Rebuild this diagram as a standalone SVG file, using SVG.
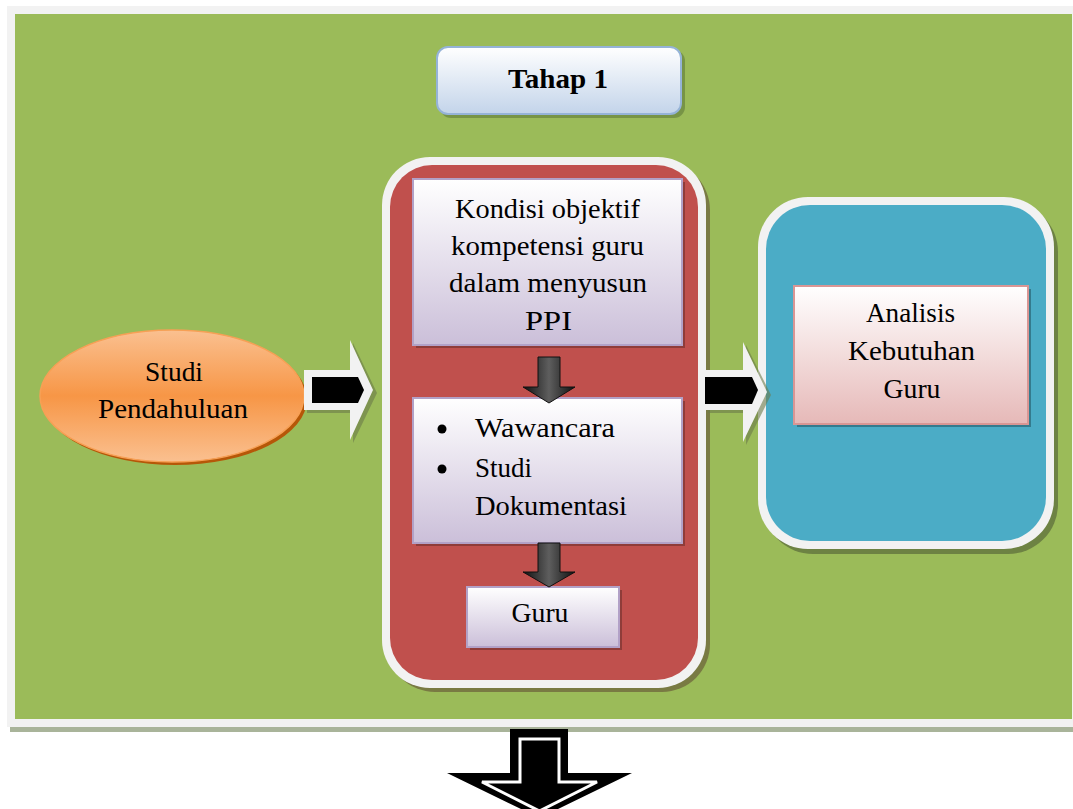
<svg xmlns="http://www.w3.org/2000/svg" width="1073" height="809" viewBox="0 0 1073 809">
<defs>
<linearGradient id="gTahap" x1="0" y1="0" x2="0" y2="1"><stop offset="0" stop-color="#ffffff"/><stop offset="1" stop-color="#c3d4ea"/></linearGradient>
<linearGradient id="gPurple" x1="0" y1="0" x2="0" y2="1"><stop offset="0" stop-color="#ffffff"/><stop offset="1" stop-color="#cbbfd9"/></linearGradient>
<linearGradient id="gPink" x1="0" y1="0" x2="0" y2="1"><stop offset="0" stop-color="#ffffff"/><stop offset="1" stop-color="#e6b9b8"/></linearGradient>
<linearGradient id="gOrange" x1="0" y1="0" x2="0" y2="1"><stop offset="0" stop-color="#fac090"/><stop offset="0.5" stop-color="#f79646"/><stop offset="1" stop-color="#fac090"/></linearGradient>
<linearGradient id="gDark" x1="0" y1="0" x2="1" y2="0"><stop offset="0" stop-color="#111"/><stop offset="0.5" stop-color="#5e5e5e"/><stop offset="1" stop-color="#111"/></linearGradient>
<style>
text{font-family:'Liberation Serif','Times New Roman',serif;font-size:27px;font-weight:400;fill:#000}
.c{text-anchor:middle}
.sh{fill:#7a3330;opacity:.7}
</style>
</defs>
<rect width="1073" height="809" fill="#ffffff"/>
<g id="frame">
<rect x="10" y="726" width="1063" height="6" fill="#a9b49a"/>
<rect x="7" y="6" width="1066" height="721" fill="#f2f2f2"/>
<rect x="15" y="14" width="1057" height="705" fill="#9bbb59"/>
</g>
<g id="tahap1">
<rect x="440" y="50" width="245" height="68" rx="11" fill="#5f7a3a" opacity="0.6"/>
<rect x="437" y="47" width="244" height="67" rx="11" fill="url(#gTahap)" stroke="#95b3d7" stroke-width="2"/>
<text class="c" x="558" y="88" style="font-weight:700;font-size:27px" textLength="100" lengthAdjust="spacingAndGlyphs">Tahap 1</text>
</g>
<g id="studi">
<ellipse cx="175" cy="399" rx="132" ry="66" fill="#b65708"/>
<ellipse cx="172" cy="396" rx="132" ry="66" fill="url(#gOrange)" stroke="#f7a055" stroke-width="1.5"/>
<text class="c" x="174" y="381" textLength="58" lengthAdjust="spacingAndGlyphs">Studi</text>
<text class="c" x="173" y="418" textLength="150" lengthAdjust="spacingAndGlyphs">Pendahuluan</text>
</g>
<g id="proses">
<rect x="387" y="162" width="323" height="530" rx="48" fill="#6b5e3a" opacity="0.7"/>
<rect x="382" y="157" width="324" height="531" rx="48" fill="#f2f2f2"/>
<rect x="390" y="165" width="308" height="515" rx="42" fill="#c0504d"/>
</g>
<g id="kondisi">
<rect x="416" y="182" width="269" height="166" class="sh"/>
<rect x="413" y="179" width="269" height="166" fill="url(#gPurple)" stroke="#b2a1c7" stroke-width="2"/>
<text class="c" x="547.5" y="218" textLength="185" lengthAdjust="spacingAndGlyphs">Kondisi objektif</text>
<text class="c" x="547.5" y="255" textLength="193" lengthAdjust="spacingAndGlyphs">kompetensi guru</text>
<text class="c" x="548" y="292" textLength="198" lengthAdjust="spacingAndGlyphs">dalam menyusun</text>
<text class="c" x="548.5" y="330" textLength="47" lengthAdjust="spacingAndGlyphs">PPI</text>
</g>
<g id="metode">
<rect x="416" y="401" width="269" height="145" class="sh"/>
<rect x="413" y="398" width="269" height="145" fill="url(#gPurple)" stroke="#b2a1c7" stroke-width="2"/>
<circle cx="442" cy="429" r="4.5" fill="#000"/>
<circle cx="442" cy="469" r="4.5" fill="#000"/>
<text x="475" y="437" textLength="140" lengthAdjust="spacingAndGlyphs">Wawancara</text>
<text x="475" y="477" textLength="57" lengthAdjust="spacingAndGlyphs">Studi</text>
<text x="475" y="515" textLength="152" lengthAdjust="spacingAndGlyphs">Dokumentasi</text>
</g>
<g id="guru">
<rect x="470" y="590" width="152" height="60" class="sh"/>
<rect x="467" y="587" width="152" height="60" fill="url(#gPurple)" stroke="#b2a1c7" stroke-width="2"/>
<text class="c" x="540" y="622" textLength="57" lengthAdjust="spacingAndGlyphs">Guru</text>
</g>
<g id="analisis-wrap">
<rect x="763" y="202" width="295" height="352" rx="50" fill="#5a6a3a" opacity="0.7"/>
<rect x="758" y="197" width="296" height="352" rx="50" fill="#f2f2f2"/>
<rect x="766" y="205" width="280" height="336" rx="44" fill="#4bacc6"/>
</g>
<g id="analisis">
<rect x="797" y="289" width="234" height="138" fill="#2e6f80" opacity="0.8"/>
<rect x="794" y="286" width="234" height="138" fill="url(#gPink)" stroke="#d99694" stroke-width="2"/>
<text class="c" x="910.5" y="322" textLength="89" lengthAdjust="spacingAndGlyphs">Analisis</text>
<text class="c" x="911.5" y="360" textLength="127" lengthAdjust="spacingAndGlyphs">Kebutuhan</text>
<text class="c" x="912" y="398" textLength="57" lengthAdjust="spacingAndGlyphs">Guru</text>
</g>
<g id="connectors">
<path d="M307,373 H353 V343 L377,393 L353,443 V413 H307 Z" fill="#6b7a4a" opacity="0.6"/>
<path d="M304,370 H350 V340 L373,390 L350,440 V410 H304 Z" fill="#f2f2f2"/>
<path d="M312,377 H358 L364,390 L358,403 H312 Z" fill="#000"/>
<path d="M708,373 H746 V345 L771,395 L746,445 V413 H708 Z" fill="#6b7a4a" opacity="0.6"/>
<path d="M705,370 H743 V342 L767,392 L743,442 V410 H705 Z" fill="#f2f2f2"/>
<path d="M705,377 H752 L758,390 L752,404 H705 Z" fill="#000"/>
<path d="M538,357 H560 V387 H575 L549,403 L523,387 H538 Z" fill="url(#gDark)" stroke="#111" stroke-width="1"/>
<path d="M538,543 H560 V572 H575 L549,587 L523,572 H538 Z" fill="url(#gDark)" stroke="#111" stroke-width="1"/>
<path d="M510,729 H568 V773 H632 L539.5,818 L447,773 H510 Z" fill="#000"/>
<path d="M520,739 H559 V782 H597 L539.5,811 L482,782 H520 Z" fill="none" stroke="#fff" stroke-width="3"/>
</g>
</svg>
